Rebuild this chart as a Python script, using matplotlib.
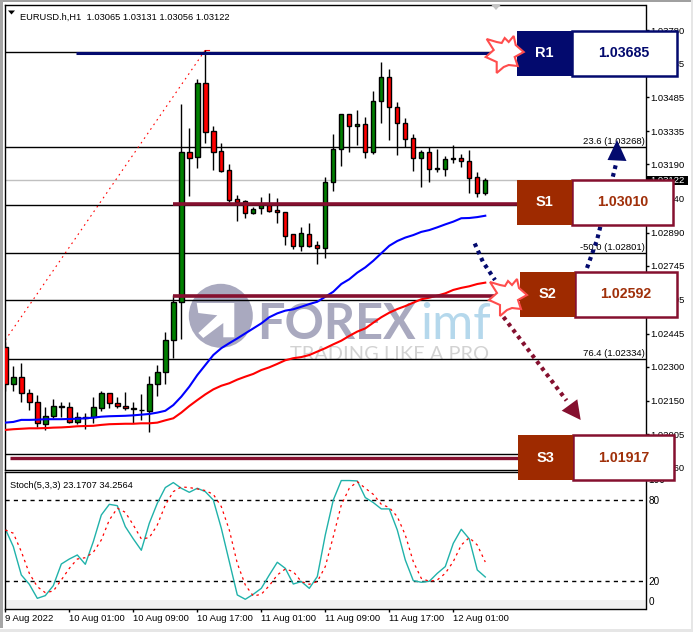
import matplotlib
matplotlib.use("Agg")
import matplotlib.pyplot as plt
from matplotlib.patches import Polygon, Rectangle, Circle

plt.rcParams['font.family'] = ['Liberation Sans', 'DejaVu Sans']

# EURUSD H1 candles, index 0 is 9 Aug 2022 17:00
opens = [1.02386, 1.02226, 1.02254, 1.02184, 1.02144, 1.02048, 1.02083, 1.02122, 1.02122, 1.02056,
         1.02078, 1.02078, 1.02118, 1.02184, 1.02140, 1.02129, 1.02118, 1.02112, 1.02106, 1.02223,
         1.02276, 1.02417, 1.02584, 1.03243, 1.03221, 1.03546, 1.03335, 1.03247, 1.03164, 1.03036,
         1.03027, 1.02977, 1.02999, 1.03010, 1.02988, 1.02979, 1.02882, 1.02832, 1.02882, 1.02835,
         1.02821, 1.03111, 1.03256, 1.03410, 1.03357, 1.03366, 1.03243, 1.03467, 1.03572, 1.03440,
         1.03370, 1.03304, 1.03216, 1.03243, 1.03168, 1.03168, 1.03212, 1.03216, 1.03203, 1.03133,
         1.03065]
highs = [1.02411, 1.02304, 1.02316, 1.02203, 1.02176, 1.02122, 1.02159, 1.02144, 1.02144, 1.02100,
         1.02097, 1.02166, 1.02194, 1.02184, 1.02166, 1.02188, 1.02144, 1.02181, 1.02260, 1.02308,
         1.02452, 1.02616, 1.03455, 1.03350, 1.03565, 1.03692, 1.03358, 1.03282, 1.03191, 1.03055,
         1.03032, 1.03004, 1.03048, 1.03063, 1.03042, 1.02979, 1.02882, 1.02913, 1.02931, 1.02853,
         1.03136, 1.03323, 1.03410, 1.03410, 1.03429, 1.03399, 1.03512, 1.03640, 1.03609, 1.03464,
         1.03393, 1.03323, 1.03253, 1.03265, 1.03257, 1.03227, 1.03275, 1.03235, 1.03253, 1.03155,
         1.03131]
lows = [1.02195, 1.02195, 1.02147, 1.02112, 1.02034, 1.02023, 1.02074, 1.02081, 1.02052, 1.02048,
        1.02027, 1.02055, 1.02107, 1.02121, 1.02118, 1.02110, 1.02052, 1.02067, 1.02015, 1.02172,
        1.02225, 1.02340, 1.02424, 1.03052, 1.03175, 1.03285, 1.03165, 1.03156, 1.03024, 1.02942,
        1.02954, 1.02972, 1.02972, 1.02980, 1.02933, 1.02837, 1.02818, 1.02810, 1.02828, 1.02753,
        1.02780, 1.03074, 1.03184, 1.03245, 1.03275, 1.03219, 1.03234, 1.03373, 1.03297, 1.03232,
        1.03267, 1.03162, 1.03092, 1.03114, 1.03158, 1.03140, 1.03197, 1.03177, 1.03063, 1.03048,
        1.03056]
closes = [1.02225, 1.02254, 1.02184, 1.02144, 1.02052, 1.02083, 1.02127, 1.02127, 1.02056, 1.02078,
          1.02075, 1.02122, 1.02184, 1.02140, 1.02129, 1.02118, 1.02114, 1.02109, 1.02223, 1.02276,
          1.02417, 1.02584, 1.03243, 1.03219, 1.03546, 1.03333, 1.03245, 1.03161, 1.03035, 1.03024,
          1.02975, 1.02994, 1.03010, 1.02986, 1.02979, 1.02876, 1.02832, 1.02887, 1.02832, 1.02821,
          1.03111, 1.03256, 1.03410, 1.03357, 1.03366, 1.03243, 1.03467, 1.03572, 1.03440, 1.03370,
          1.03300, 1.03216, 1.03243, 1.03168, 1.03175, 1.03212, 1.03216, 1.03203, 1.03129, 1.03063,
          1.03122]

ma_fast = [1.02055, 1.02058, 1.02067, 1.02067, 1.02068, 1.02070, 1.02070, 1.02070, 1.02071, 1.02072,
           1.02074, 1.02077, 1.02081, 1.02083, 1.02084, 1.02085, 1.02087, 1.02090, 1.02093, 1.02099,
           1.02107, 1.02132, 1.02169, 1.02213, 1.02264, 1.02308, 1.02352, 1.02382, 1.02404, 1.02425,
           1.02447, 1.02469, 1.02491, 1.02518, 1.02535, 1.02547, 1.02553, 1.02564, 1.02576, 1.02586,
           1.02608, 1.02630, 1.02664, 1.02685, 1.02714, 1.02737, 1.02766, 1.02799, 1.02832, 1.02853,
           1.02868, 1.02879, 1.02893, 1.02901, 1.02913, 1.02926, 1.02938, 1.02953, 1.02954, 1.02958,
           1.02964]
ma_slow = [1.02023, 1.02026, 1.02028, 1.02030, 1.02030, 1.02031, 1.02033, 1.02034, 1.02036, 1.02039,
           1.02040, 1.02041, 1.02045, 1.02048, 1.02049, 1.02050, 1.02050, 1.02052, 1.02052, 1.02055,
           1.02065, 1.02074, 1.02099, 1.02128, 1.02154, 1.02179, 1.02201, 1.02217, 1.02228, 1.02244,
           1.02257, 1.02269, 1.02286, 1.02298, 1.02313, 1.02329, 1.02338, 1.02343, 1.02352, 1.02367,
           1.02382, 1.02399, 1.02415, 1.02436, 1.02455, 1.02469, 1.02494, 1.02518, 1.02538, 1.02554,
           1.02567, 1.02582, 1.02597, 1.02604, 1.02613, 1.02623, 1.02638, 1.02647, 1.02654, 1.02664,
           1.02670]

stoch_main = [58.8, 45.7, 24.7, 17.8, 7.4, 9.4, 16.8, 32.8, 36.5, 39.5,
              32.6, 49.4, 69.1, 77.0, 76.0, 60.5, 51.4, 43.0, 63.0, 77.8,
              89.4, 93.1, 88.9, 85.9, 88.9, 86.4, 80.2, 59.3, 34.6, 9.9,
              6.7, 10.4, 14.8, 24.7, 34.1, 29.6, 18.0, 19.8, 14.8, 23.5,
              54.3, 80.2, 94.6, 94.6, 94.3, 82.0, 78.3, 73.6, 73.6, 58.0,
              35.8, 20.5, 19.3, 20.0, 25.9, 30.9, 48.1, 58.5, 51.4, 28.4,
              23.2]
stoch_signal = [58.0, 55.6, 42.0, 25.9, 16.0, 11.6, 12.8, 21.0, 29.6, 36.5,
                37.5, 41.5, 50.6, 65.4, 74.1, 71.1, 61.7, 51.4, 52.3, 61.7,
                76.5, 86.4, 89.9, 89.4, 88.4, 87.2, 84.4, 75.3, 58.0, 33.3,
                17.3, 9.1, 10.4, 16.8, 24.7, 29.1, 27.2, 19.8, 17.8, 19.8,
                30.9, 53.1, 76.5, 88.9, 93.8, 88.9, 84.4, 77.0, 74.6, 67.9,
                54.3, 34.6, 22.2, 20.0, 21.0, 25.9, 34.6, 46.9, 52.3, 46.9,
                34.3]

price_ticks = [1.03780, 1.03635, 1.03485, 1.03335, 1.03190, 1.03040, 1.02890,
               1.02745, 1.02595, 1.02445, 1.02300, 1.02150, 1.02005, 1.01860]
time_ticks = [0, 8, 16, 24, 32, 40, 48, 56]
time_labels = ['9 Aug 2022', '10 Aug 01:00', '10 Aug 09:00', '10 Aug 17:00',
               '11 Aug 01:00', '11 Aug 09:00', '11 Aug 17:00', '12 Aug 01:00']

fib_levels = [1.03685, 1.03268, 1.03010, 1.02801, 1.02592, 1.02334, 1.01917]
fib_labels = {1.03268: '23.6 (1.03268)', 1.02801: '-50.0 (1.02801)', 1.02334: '76.4 (1.02334)'}
last_price = 1.03122
fib_from = (0, 1.02418)
fib_to = (25, 1.03692)

W, H = 693, 632
TXT = 6.8
NAVY = '#030a6e'
MAROON = '#85102f'
RUST = '#9e2a00'


def px_axes(left, top, right, bottom, **kw):
    return fig.add_axes([left / W, 1 - bottom / H, (right - left) / W, (bottom - top) / H], **kw)


fig = plt.figure(figsize=(W / 100, H / 100), dpi=100, facecolor='white')

# watermark sits under the chart
back = px_axes(0, 0, W, H, zorder=0)
back.set_xlim(0, W)
back.set_ylim(H, 0)
back.axis('off')
back.add_patch(Circle((220.8, 315.8), 32, color='#a9a9bf', lw=0))
back.add_patch(Polygon([(196.7, 303), (234.3, 303), (234.3, 337.3), (223.3, 337.3), (223.3, 323), (203.3, 338),
                        (198.3, 333), (217.3, 315.3), (198.3, 313)], color='white', lw=0))
back.text(257, 339, 'FOREX', fontsize=35, fontweight='bold', color='#a9a9bf', family='Lato', va='baseline')
back.text(420, 339, 'imf', fontsize=36, color='#b5d8ec', family='Lato', va='baseline')
back.text(290, 360, 'TRADING LIKE A PRO', fontsize=14.4, color='#d2d2d2', family='Lato', va='baseline')

# price chart
ax = px_axes(5, 4.5, 645.5, 470, zorder=1, facecolor='none')
ax.set_xlim(-0.04, 80.03)
ax.set_ylim(1.02005 - 36 / 22760, 1.02005 + 429.5 / 22760)

for lev in fib_levels:
    ax.axhline(lev, color='black', lw=1, zorder=1)
ax.axhline(last_price, color='#c0c0c0', lw=1, zorder=1)
ax.plot([fib_from[0], fib_to[0]], [fib_from[1], fib_to[1]], color='red', lw=0.8,
        ls=(0, (1.5, 3.5)), zorder=1)
ax.plot([fib_to[0], fib_to[0] + 0.4], [fib_to[1], fib_to[1]], color='red', lw=0.8, zorder=1)
for lev, lab in fib_labels.items():
    ax.text(79.9, lev + 0.00003, lab, ha='right', va='bottom', fontsize=TXT, color='black', zorder=2)

xs = list(range(len(opens)))
colors = ['#008000' if c >= o else '#ff0000' for o, c in zip(opens, closes)]
ax.vlines(xs, lows, highs, color='black', lw=1, zorder=3)
ax.bar(xs, [abs(c - o) for o, c in zip(opens, closes)], bottom=[min(o, c) for o, c in zip(opens, closes)],
       width=0.55, color=colors, edgecolor='black', lw=1, zorder=4)
ax.plot(xs, ma_fast, color='#0000ff', lw=1.5, zorder=5)
ax.plot(xs, ma_slow, color='#ff0000', lw=1.5, zorder=5)

ax.yaxis.tick_right()
ax.set_yticks(price_ticks)
ax.set_yticklabels(['%.5f' % p for p in price_ticks])
ax.tick_params(axis='y', length=2, width=1, pad=1.5, labelsize=TXT)
ax.set_xticks([])
ax.text(15 / 640.5, 0.9735, 'EURUSD.h,H1  1.03065 1.03131 1.03056 1.03122', transform=ax.transAxes,
        fontsize=6.7, va='center', ha='left', color='black')
for s in ax.spines.values():
    s.set_linewidth(1)

# stochastic pane
sub = px_axes(5, 471.5, 645.5, 609, zorder=1)
sub.set_xlim(-0.04, 80.03)
sub.set_ylim(-0.5, 101.3)
sub.axhspan(-0.5, 6.3, color='#efefef', lw=0, zorder=0)
sub.axhline(80, color='black', lw=1, ls=(0, (3, 3)), zorder=1)
sub.axhline(20, color='black', lw=1, ls=(0, (3, 3)), zorder=1)
sub.plot(xs, stoch_main, color='#20b2aa', lw=1, zorder=2)
sub.plot(xs, stoch_signal, color='red', lw=0.9, ls=(0, (2, 3)), zorder=3)
sub.yaxis.tick_right()
sub.set_yticks([100, 80, 20, 0])
sub.set_yticklabels(['', '80', '20', ''])
sub.text(1.005, 95, '100', transform=sub.get_yaxis_transform(), fontsize=7.2, va='center')
sub.text(1.005, 4.7, '0', transform=sub.get_yaxis_transform(), fontsize=7.2, va='center')
sub.tick_params(axis='y', length=0, width=1, pad=2, labelsize=7.2)
sub.set_xticks(time_ticks)
sub.set_xticklabels(time_labels, ha='left', fontsize=TXT)
sub.tick_params(axis='x', length=2, width=1, pad=1.5)
sub.text(4.5 / 640.5, 0.9, 'Stoch(5,3,3) 23.1707 34.2564', transform=sub.transAxes, fontsize=6.7, va='center')
for s in sub.spines.values():
    s.set_linewidth(1)

# drawn-on annotations and window frame, in pixel coordinates
top = px_axes(0, 0, W, H, zorder=2, facecolor='none')
top.set_xlim(0, W)
top.set_ylim(H, 0)
top.axis('off')

top.add_patch(Rectangle((0, 0), W, 1.5, color='#a0a0a0', lw=0))
top.add_patch(Rectangle((0, 0), 2.5, 628, color='#a6a6a6', lw=0))
top.add_patch(Rectangle((0, 629), W, 3, color='#e6e6e6', lw=0))
top.add_patch(Rectangle((690.5, 0), 2.5, H, color='#e6e6e6', lw=0))
top.add_patch(Polygon([(491, 4.5), (501, 4.5), (496, 10)], color='#c4c4c4', lw=0))
top.add_patch(Polygon([(8, 10.5), (15, 10.5), (11.5, 14.5)], color='black', lw=0))

top.plot([76, 492], [53.3, 53.3], color=NAVY, lw=2.2, solid_capstyle='butt')
top.plot([173, 518], [203.5, 203.5], color=MAROON, lw=2.6, solid_capstyle='butt')
top.plot([173, 500], [295.7, 295.7], color=MAROON, lw=2.6, solid_capstyle='butt')
top.plot([10, 518], [458.3, 458.3], color=MAROON, lw=2.4, solid_capstyle='butt')

# dotted arrows
dots = (0, (0.9, 1.0))
top.plot([587, 597, 616.5], [268, 240, 162], color=NAVY, lw=3, ls=dots)
top.add_patch(Polygon([(607.5, 160), (626.5, 161), (617, 140)], color=NAVY, lw=0))
top.plot([474.7, 483, 495], [243.5, 262, 280], color=NAVY, lw=3, ls=dots)
top.plot([503.5, 566.5], [317, 400.5], color=MAROON, lw=3, ls=dots)
top.add_patch(Polygon([(561.7, 410.7), (577.3, 399.3), (580.7, 420)], color=MAROON, lw=0))

# explosion markers, drawn over the boxes
star = [(-20, -13), (-10, -10), (-5, -9), (-2, -14), (2, -10), (7, -16), (9, -7), (17, 0), (8, 5), (11, 14),
        (2, 13), (-3, 15), (-10, 21), (-10, 10), (-21, 5), (-13, -2)]
for cx, cy in [(506.7, 52), (510, 295)]:
    top.add_patch(Polygon([(cx + a, cy + b) for a, b in star], facecolor='white', edgecolor='#ff4d4d', lw=1.5, zorder=6))

# level boxes: left edge, split, right edge, top, bottom, label, value, fill, border
boxes = [
    (516.5, 571.7, 676.7, 31, 75.5, 'R1', '1.03685', NAVY, NAVY, NAVY),
    (516.5, 571.7, 673.3, 180, 225, 'S1', '1.03010', RUST, MAROON, '#a0300a'),
    (519.7, 575, 676.7, 272, 317, 'S2', '1.02592', RUST, MAROON, '#a0300a'),
    (517.7, 572.7, 674.3, 435, 480, 'S3', '1.01917', RUST, MAROON, '#a0300a'),
]
# tag for last price goes under the boxes
top.add_patch(Rectangle((646.7, 175.7), 41.3, 9.6, color='black', lw=0, zorder=2))
top.text(650.5, 180.6, '%.5f' % last_price, color='white', fontsize=TXT, va='center', zorder=2.1)
for x0, x1, x2, y0, y1, name, val, fill, edge, tc in boxes:
    top.add_patch(Rectangle((x1, y0), x2 - x1, y1 - y0, facecolor='white', edgecolor=edge, lw=1.8, zorder=4))
    top.add_patch(Rectangle((x0, y0), x1 - x0, y1 - y0, facecolor=fill, lw=0, zorder=4))
    top.text((x0 + x1) / 2, (y0 + y1) / 2, name, color='white', fontsize=10.5, fontweight='bold',
             ha='center', va='center', zorder=5)
    top.text((x1 + x2) / 2, (y0 + y1) / 2, val, color=tc, fontsize=10.2, fontweight='bold',
             ha='center', va='center', zorder=5)

fig.savefig('out.png', dpi=100)
